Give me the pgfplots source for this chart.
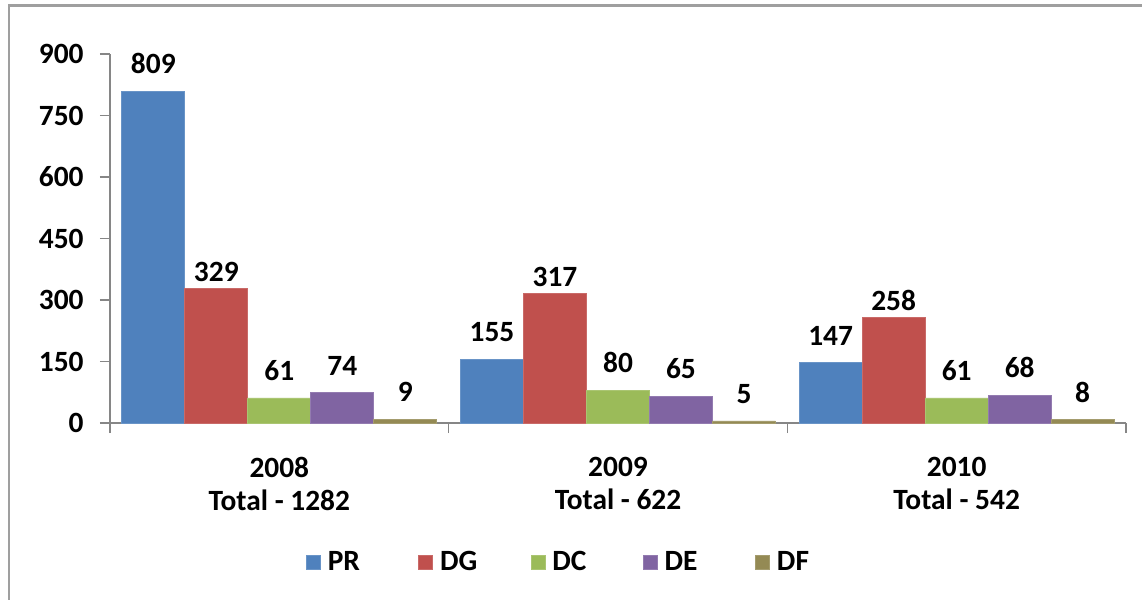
\documentclass[border=0pt]{standalone}
\usepackage{fontspec}
\setmainfont{Carlito}
\usepackage{pgfplots}
\pgfplotsset{compat=1.18}
\definecolor{cPR}{HTML}{4F81BD}
\definecolor{cDG}{HTML}{C0504D}
\definecolor{cDC}{HTML}{9BBB59}
\definecolor{cDE}{HTML}{8064A2}
\definecolor{cDF}{HTML}{948A54}
\definecolor{axgray}{HTML}{868686}
\newcommand{\lf}{\bfseries\fontsize{14.7}{16.6}\selectfont}
\begin{document}
\begin{tikzpicture}
\useasboundingbox (0,0) rectangle (571pt,-300pt);
\fill[white] (0,0) rectangle (571pt,-300pt);
\draw[gray!75, line width=1.2pt] (4.5pt,-300pt) -- (4.5pt,-2.8pt) -- (571pt,-2.8pt);
\begin{axis}[
  at={(55pt,-211.5pt)}, anchor=south west,
  scale only axis, width=508pt, height=184.5pt,
  xmin=-0.5, xmax=2.5, ymin=0, ymax=900,
  ybar=0pt, bar width=0.186,
  clip=false,
  axis lines*=left,
  axis line style={axgray, line width=0.6pt},
  tick align=outside,
  major tick length=5pt, minor tick length=5pt,
  ytick={0,150,300,450,600,750,900},
  xtick={0,1,2},
  xticklabels={{2008\\Total - 1282},{2009\\Total - 622},{2010\\Total - 542}},
  minor xtick={-0.5,0.5,1.5,2.5},
  every major x tick/.style={draw=none},
  every minor x tick/.style={axgray, line width=0.6pt},
  every major y tick/.style={axgray, line width=0.6pt},
  /pgf/number format/assume math mode=true,
  ticklabel style={font=\lf},
  yticklabel style={anchor=east, inner sep=0pt, xshift=-8pt},
  xticklabel style={align=center, anchor=north, inner sep=0pt, yshift=-12pt},
  nodes near coords,
  every node near coord/.append style={font=\lf, anchor=south, inner sep=0pt, yshift=8.5pt, text=black},
  legend columns=5,
  legend style={at={(0.1929,-0.3767)}, anchor=west, draw=none, fill=none,
    inner sep=0pt, outer sep=0pt, column sep=0pt,
    font=\lf,
    nodes={inner sep=0pt, text width=45.25pt, align=left},
    /tikz/every odd column/.append style={column sep=3.5pt}},
  legend image code/.code={\fill[#1] (0pt,-3.5pt) rectangle (7pt,3.5pt);},
]
\addplot[fill=cPR, draw=cPR!85!white] coordinates {(0,809) (1,155) (2,147)};
\addplot[fill=cDG, draw=cDG!85!white, every node near coord/.append style={yshift=-5.5pt}] coordinates {(0,329) (1,317) (2,258)};
\addplot[fill=cDC, draw=cDC!85!white] coordinates {(0,61) (1,80) (2,61)};
\addplot[fill=cDE, draw=cDE!85!white] coordinates {(0,74) (1,65) (2,68)};
\addplot[fill=cDF, draw=cDF!85!white] coordinates {(0,9) (1,5) (2,8)};
\legend{PR,DG,DC,DE,DF}
\end{axis}
\end{tikzpicture}
\end{document}
